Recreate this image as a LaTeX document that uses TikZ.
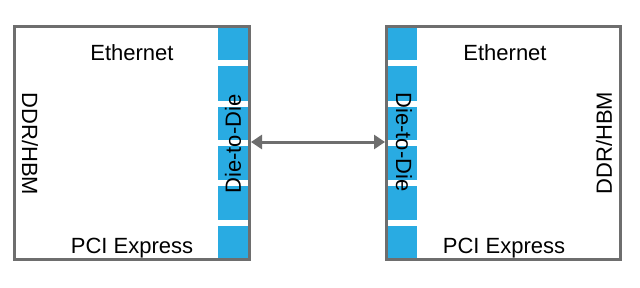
\documentclass[tikz,border=0pt]{standalone}
\usepackage{fontspec}
\setmainfont{Liberation Sans}
\usetikzlibrary{arrows.meta}
\definecolor{chipgray}{HTML}{6E6E6E}
\definecolor{d2dblue}{HTML}{29ABE2}
\tikzset{
  chip/.style={draw=chipgray, line width=3pt, fill=none},
  seg/.style={fill=d2dblue, draw=none},
  lbl/.style={inner sep=0pt, font=\fontsize{22}{26}\selectfont, text=black},
  link/.style={draw=chipgray, line width=3pt, {Triangle[length=11pt,width=14pt]}-{Triangle[length=11pt,width=14pt]}, shorten <=0pt, shorten >=0pt}
}
\begin{document}
\begin{tikzpicture}[x=1pt,y=-1pt]
\useasboundingbox (0,0) rectangle (640,287);
\fill[white] (0,0) rectangle (640,287);
% blue die-to-die strips
\foreach \a/\b in {27/60,66/101,107/140,146/180,186/220,226/259}{
  \fill[seg] (218,\a) rectangle (249,\b);
  \fill[seg] (387,\a) rectangle (417,\b);
}
% chip outlines
\draw[chip] (14.5,26.5) rectangle (249.5,259.5);
\draw[chip] (386.5,26.5) rectangle (620.5,259.5);
\coordinate (la) at (251,142);
\coordinate (ra) at (385,142);
% left chip labels
\node[lbl, anchor=base] (leth) at (132,60) {Ethernet};
\node[lbl, anchor=base] (lpci) at (132,253) {PCI Express};
\node[lbl, rotate=-90] (lddr) at (30,144) {DDR/HBM};
\node[lbl, rotate=90] (ld2d) at (233,144) {Die-to-Die};
% right chip labels
\node[lbl, anchor=base] (reth) at (505,60) {Ethernet};
\node[lbl, anchor=base] (rpci) at (504,253) {PCI Express};
\node[lbl, rotate=90] (rddr) at (604,143) {DDR/HBM};
\node[lbl, rotate=-90] (rd2d) at (404,142) {Die-to-Die};
% link
\draw[link] (la) -- (ra);
\end{tikzpicture}
\end{document}
